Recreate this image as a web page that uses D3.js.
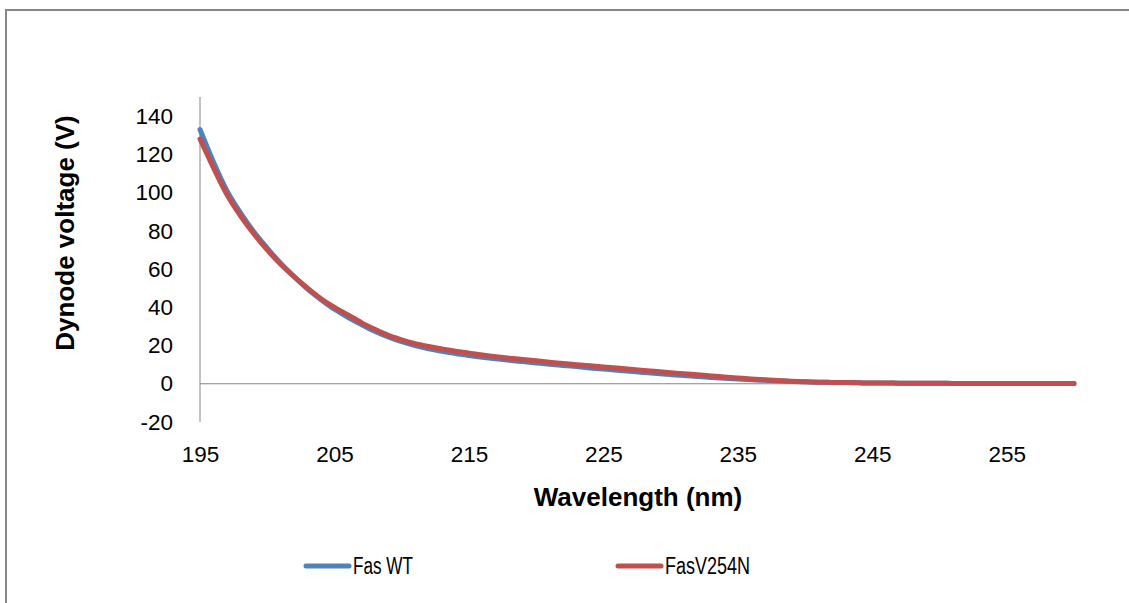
<!DOCTYPE html>
<html>
<head>
<meta charset="utf-8">
<script src="https://cdn.jsdelivr.net/npm/d3@7"></script>
<style>
  body { margin: 0; background: #fff; }
  text { font-family: "Liberation Sans", Arial, sans-serif; fill: #000; }
</style>
</head>
<body>
<script>
// 1. sizes
const w = 1129;
const h = 603;

// 2. data
const wavelength = d3.range(195, 261); // 195..260 nm
const fasWT = [
  133, 116, 101, 89.5, 79.5, 71, 63, 56, 49.5, 44,
  39, 34.8, 31, 27.5, 24.5, 22, 20, 18.3, 17, 15.8,
  14.8, 13.9, 13.1, 12.3, 11.6, 10.9, 10.2, 9.6, 9, 8.3,
  7.7, 7.1, 6.5, 5.9, 5.3, 4.8, 4.3, 3.8, 3.3, 2.9,
  2.5, 2.1, 1.8, 1.5, 1.2, 1.0, 0.8, 0.7, 0.6, 0.5,
  0.4, 0.4, 0.3, 0.3, 0.3, 0.3, 0.2, 0.2, 0.2, 0.2,
  0.2, 0.2, 0.2, 0.2, 0.2, 0.2
];
const fasV254N = [
  128, 113, 99, 88, 78.5, 70, 62.5, 56, 50, 44.5,
  40, 36, 32, 28.5, 25.3, 23, 21, 19.5, 18.2, 17,
  16, 15, 14.2, 13.4, 12.7, 12, 11.3, 10.6, 10, 9.4,
  8.8, 8.2, 7.6, 7, 6.4, 5.8, 5.2, 4.7, 4.1, 3.5,
  3, 2.5, 2.1, 1.7, 1.3, 1.0, 0.8, 0.7, 0.6, 0.5,
  0.4, 0.4, 0.3, 0.3, 0.3, 0.3, 0.2, 0.2, 0.2, 0.2,
  0.2, 0.2, 0.2, 0.2, 0.2, 0.2
];
const xTicks = [195, 205, 215, 225, 235, 245, 255];
const yTicks = [-20, 0, 20, 40, 60, 80, 100, 120, 140];
const seriesNames = ["Fas WT", "FasV254N"];
const seriesColors = ["#4F81BD", "#C0504D"];

// 3. scales
const xScale = d3.scaleLinear().domain([195, 260]).range([200, 1074]);
const yScale = d3.scaleLinear().domain([-20, 150]).range([422, 97]);

// 4. svg
const svg = d3.select("body").append("svg")
  .attr("width", w)
  .attr("height", h);

// chart border (runs off the right and bottom of the picture)
svg.append("rect")
  .attr("x", 6).attr("y", 10)
  .attr("width", w + 20).attr("height", h + 20)
  .attr("fill", "none")
  .attr("stroke", "#868686")
  .attr("stroke-width", 2);

// 5. axes
const leftAxis = d3.axisLeft(yScale)
  .tickValues(yTicks)
  .tickFormat(d => String(d)) // plain hyphen for -20
  .tickSize(0)
  .tickPadding(27);
const gy = svg.append("g").attr("transform", "translate(" + xScale(195) + ",0)").call(leftAxis);
gy.select(".domain").attr("stroke", "#868686").attr("d", "M0," + yScale(150) + "V" + yScale(-20));
gy.selectAll("text").attr("font-size", 22.5).attr("font-family", "Liberation Sans, Arial, sans-serif");

// horizontal axis line at 0, labels at the bottom
svg.append("line")
  .attr("x1", xScale(195)).attr("x2", xScale(260))
  .attr("y1", yScale(0)).attr("y2", yScale(0))
  .attr("stroke", "#868686");

const bottomAxis = d3.axisBottom(xScale).tickValues(xTicks).tickSize(0).tickPadding(24);
const gx = svg.append("g").attr("transform", "translate(0," + yScale(-20) + ")").call(bottomAxis);
gx.select(".domain").remove();
gx.selectAll("text").attr("font-size", 22.5).attr("font-family", "Liberation Sans, Arial, sans-serif");

// axis titles
svg.append("text")
  .attr("x", 638).attr("y", 506)
  .attr("text-anchor", "middle")
  .attr("font-size", 26).attr("font-weight", "bold")
  .text("Wavelength (nm)");

svg.append("text")
  .attr("transform", "translate(74,233) rotate(-90)")
  .attr("text-anchor", "middle")
  .attr("font-size", 26).attr("font-weight", "bold")
  .text("Dynode voltage (V)");

// 6. lines
const line = d3.line()
  .x((d, i) => xScale(wavelength[i]))
  .y(d => yScale(d))
  .curve(d3.curveMonotoneX);

[fasWT, fasV254N].forEach((s, k) => {
  svg.append("path")
    .attr("d", line(s))
    .attr("fill", "none")
    .attr("stroke", seriesColors[k])
    .attr("stroke-width", 5)
    .attr("stroke-linejoin", "round")
    .attr("stroke-linecap", "round");
});

// 7. legend
const legendX = [306, 618];
const legendW = [60, 85];
seriesNames.forEach((name, k) => {
  svg.append("line")
    .attr("x1", legendX[k]).attr("x2", legendX[k] + 43)
    .attr("y1", 566).attr("y2", 566)
    .attr("stroke", seriesColors[k])
    .attr("stroke-width", 5)
    .attr("stroke-linecap", "round");
  svg.append("text")
    .attr("x", legendX[k] + 47).attr("y", 574)
    .attr("font-size", 23)
    .attr("textLength", legendW[k])
    .attr("lengthAdjust", "spacingAndGlyphs")
    .text(name);
});
</script>
</body>
</html>
